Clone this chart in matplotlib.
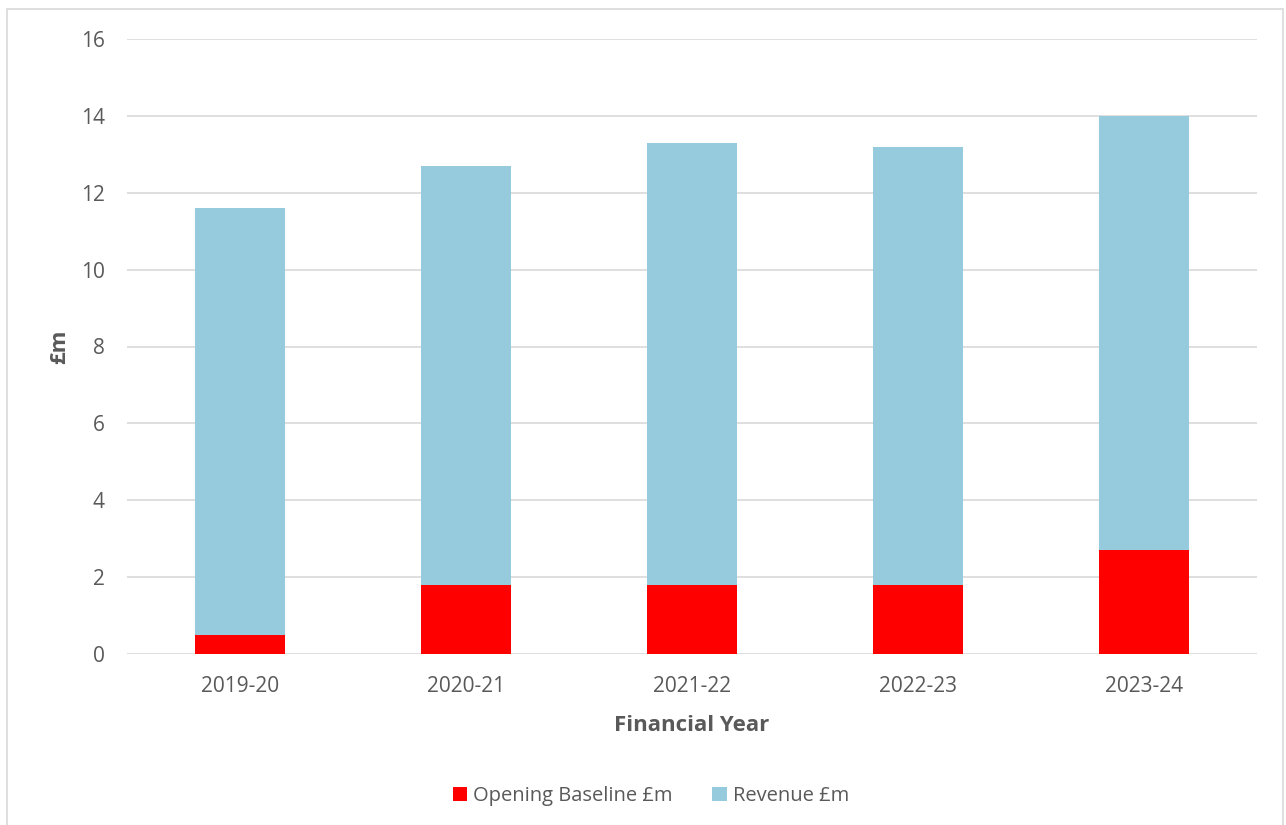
import matplotlib
matplotlib.use("Agg")
import matplotlib.pyplot as plt
from matplotlib.patches import Rectangle

years = ["2019-20", "2020-21", "2021-22", "2022-23", "2023-24"]
opening_baseline = [0.5, 1.8, 1.8, 1.8, 2.7]
revenue = [11.1, 10.9, 11.5, 11.4, 11.3]

plt.rcParams['font.family'] = ['Open Sans', 'DejaVu Sans']
text_col = "#595959"

fig = plt.figure(figsize=(12.86, 8.25), dpi=100)
ax = fig.add_axes([0.0988, 0.2073, 0.8786, 0.7454])

x = list(range(len(years)))
ax.bar(x, opening_baseline, width=0.4, color="#FF0000", label="Opening Baseline £m", zorder=3)
ax.bar(x, revenue, width=0.4, bottom=opening_baseline, color="#95CBDC", label="Revenue £m", zorder=3)

ax.set_xlim(-0.5, len(years) - 0.5)
ax.set_ylim(0, 16)
ax.set_yticks(range(0, 17, 2))
ax.set_xticks(x)
ax.set_xticklabels(years)
ax.grid(axis="y", color="#D9D9D9", linewidth=1.2, zorder=0)
for s in ax.spines.values():
    s.set_visible(False)
ax.tick_params(axis="both", length=0, labelsize=15, colors=text_col)
ax.tick_params(axis="x", pad=16)
ax.tick_params(axis="y", pad=16)

ax.set_xlabel("Financial Year", fontsize=16, fontweight="bold", color=text_col, labelpad=13)
ax.set_ylabel("£m", fontsize=16, fontweight="bold", color=text_col, labelpad=8)

# legend sits below the axes, centred a little right of the figure middle
fig.legend(*ax.get_legend_handles_labels(), loc="center", bbox_to_anchor=(0.506, 0.035),
           bbox_transform=fig.transFigure, ncol=2, frameon=False,
           fontsize=14.5, labelcolor=text_col, handlelength=0.7, handleheight=0.7,
           handletextpad=0.3, columnspacing=2.0)

fig.patches.append(Rectangle((0.0054, -0.01), 0.992, 0.999, transform=fig.transFigure,
                             fill=False, edgecolor="#D9D9D9", linewidth=1.2))

fig.savefig("out.png", dpi=100, facecolor="white")
